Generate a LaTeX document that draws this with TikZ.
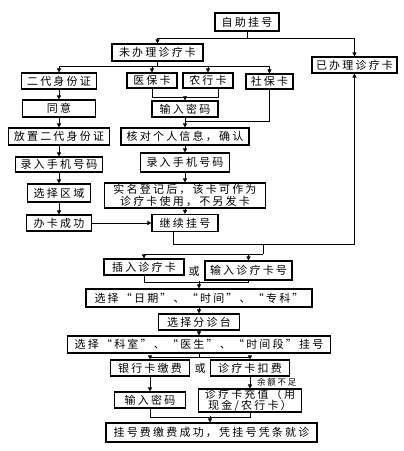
\documentclass[tikz,border=0pt]{standalone}
\usepackage{fontspec}
\newfontfamily\cjk[LetterSpace=20]{Noto Sans CJK SC}
\usetikzlibrary{arrows.meta,calc}
\tikzset{
  box/.style={draw=black, line width=1.1pt, inner sep=0pt, align=center, fill=white,
    font=\cjk\fontsize{11}{11.5}\selectfont},
  arr/.style={-{Triangle[length=4pt,width=4pt]}, line width=0.7pt},
  ln/.style={line width=0.7pt},
  txt/.style={inner sep=0pt, font=\cjk\fontsize{11}{12}\selectfont},
  small/.style={inner sep=0pt, font=\cjk\fontsize{8.5}{9}\selectfont}
}
\newcommand\bx[6]{\node[box,minimum width=#4pt,minimum height=#5pt] (#1) at (#2,#3) {#6};}
\begin{document}
\begin{tikzpicture}[x=1pt,y=-1pt]
\fill[white] (0,0) rectangle (404,451);
\useasboundingbox (0,0) rectangle (404,451);
\bx{zz}{247}{22}{64}{18}{自助挂号}
\bx{wb}{157.5}{52.5}{91}{17}{未办理诊疗卡}
\bx{yb}{354.5}{65}{85}{16}{已办理诊疗卡}
\bx{sfz}{59}{81}{75}{16}{二代身份证}
\bx{yib}{152}{80.5}{50}{15}{医保卡}
\bx{nh}{208}{80.5}{50}{15}{农行卡}
\bx{sb}{269.5}{81.5}{47}{15}{社保卡}
\bx{ty}{59}{108.5}{73}{17}{同意}
\bx{mm1}{185}{109}{66}{16}{输入密码}
\bx{fz}{59}{136.5}{101}{17}{放置二代身份证}
\bx{hd}{185}{136.5}{128}{17}{核对个人信息，确认}
\bx{sja}{59}{164.5}{87}{15}{录入手机号码}
\bx{sjb}{185}{162.5}{89}{19}{录入手机号码}
\bx{qy}{59}{193}{63}{18}{选择区域}
\bx{sm}{185}{195.5}{161}{25}{实名登记后，该卡可作为\\诊疗卡使用，不另发卡}
\bx{bk}{59}{223}{65}{16}{办卡成功}
\bx{jx}{185}{223}{66}{17}{继续挂号}
\bx{cr}{144}{267}{80}{16}{插入诊疗卡}
\bx{sr}{248.5}{270.5}{87}{19}{输入诊疗卡号}
\bx{rq}{199}{298}{226}{18}{选择“日期”、“时间”、“专科”}
\bx{fzt}{199}{322}{81}{16}{选择分诊台}
\bx{ks}{199}{344.5}{263}{17}{选择“科室”、“医生”、“时间段”挂号}
\bx{yh}{150}{368}{79}{16}{银行卡缴费}
\bx{kf}{250}{368}{79}{16}{诊疗卡扣费}
\bx{mmb}{150}{400}{71}{16}{输入密码}
\bx{cz}{250}{400.5}{103}{23}{诊疗卡充值（用\\现金/农行卡）}
\bx{cg}{211.5}{432.5}{211}{19}{挂号费缴费成功，凭挂号凭条就诊}
\node[txt] (or1) at (194,271) {或};
\node[txt] (or2) at (200,368) {或};
\node[small, anchor=west] (ye) at (257,382) {余额不足};
% connectors
\draw[arr] (zz.south) -- ++(0,7) -| (wb.north);
\draw[arr] (zz.south) -- ++(0,7) -| (yb.north);
\draw[arr] (wb.south) -- ++(0,5) -| (sfz.north);
\draw[arr] (wb.south) -- ++(0,5) -| (yib.north);
\draw[arr] (wb.south) -- ++(0,5) -| (nh.north);
\draw[arr] (wb.south) -- ++(0,5) -| (sb.north);
\draw[ln] (yib.south) -- ++(0,9) -| ([xshift=10pt]nh.south);
\draw[arr] ($(mm1.north)+(0,-4)$) -- (mm1.north);
\draw[ln] (sb.south) |- ($(hd.north)+(0,-6)$);
\draw[arr] (mm1) -- (hd);
\draw[arr] (sfz) -- (ty);
\draw[arr] (ty) -- (fz);
\draw[arr] (fz) -- (sja);
\draw[arr] (sja) -- (qy);
\draw[arr] (qy) -- (bk);
\draw[arr] (hd) -- (sjb);
\draw[arr] (sjb) -- (sm);
\draw[arr] (sm) -- (jx);
\draw[arr] (bk) -- (jx);
\draw[arr] ([xshift=-12pt]jx.south) -- ++(0,12) -| (yb.south);
\coordinate (j5) at (263,243.5);
\draw[ln] (j5) -- ++(0,10.5) coordinate (j6);
\draw[arr] (j6) -| (cr.north);
\draw[arr] (j6) -| (sr.north);
\draw[ln] (cr.south) -- ++(0,7) -| (sr.south);
\draw[arr] ($(rq.north)+(0,-7)$) -- (rq.north);
\draw[arr] (rq) -- (fzt);
\draw[arr] (fzt) -- (ks);
\draw[arr] (ks.south) -- ++(0,4) -| (yh.north);
\draw[arr] (ks.south) -- ++(0,4) -| (kf.north);
\draw[arr] (yh) -- (mmb);
\draw[arr] (kf) -- (cz);
\draw[ln] (mmb.south) -- ++(0,9) -| (cz.south);
\draw[arr] ($(cg.north)+(-1.5,-6)$) -- ([xshift=-1.5pt]cg.north);
\end{tikzpicture}
\end{document}
